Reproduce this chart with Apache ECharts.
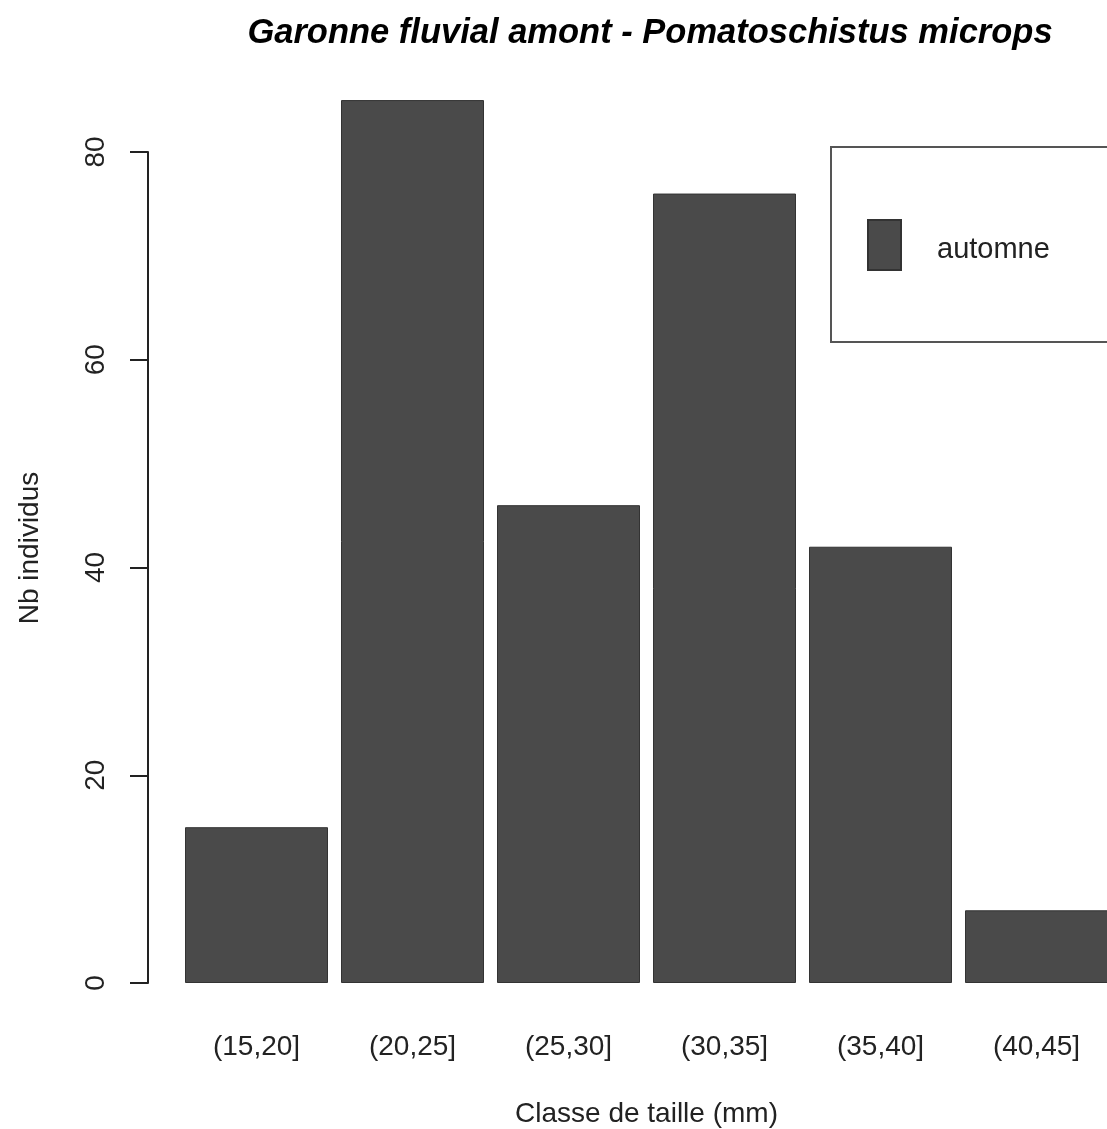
<!DOCTYPE html>
<html><head><meta charset="utf-8">
<script src="https://cdn.jsdelivr.net/npm/echarts@6/dist/echarts.min.js"></script>
<style>html,body{margin:0;padding:0;background:#fff}#c{width:1107px;height:1129px}</style>
</head><body><div id="c"></div>
<script>
const categories = ['(15,20]', '(20,25]', '(25,30]', '(30,35]', '(35,40]', '(40,45]'];
const automne = [15, 85, 46, 76, 42, 7];
const yTicks = { min: 0, max: 80, interval: 20 };
const titleText = 'Garonne fluvial amont - Pomatoschistus microps';
const xTitle = 'Classe de taille (mm)';
const yTitle = 'Nb individus';
const seriesName = 'automne';

const chart = echarts.init(document.getElementById('c'));
const font = 'Liberation Sans, Arial, sans-serif';
chart.setOption({
  animation: false,
  backgroundColor: '#fff',
  title: {
    text: titleText, left: 645, top: 11, textAlign: 'center',
    textStyle: { fontFamily: font, fontStyle: 'italic', fontWeight: 'bold', fontSize: 34.5, color: '#000' }
  },
  legend: {
    left: 831, top: 147, orient: 'vertical',
    padding: [72, 80, 71, 36],
    borderColor: '#555', borderWidth: 2, backgroundColor: '#fff',
    icon: 'rect', itemWidth: 33, itemHeight: 50,
    formatter: name => '{a|' + name + '}',
    textStyle: {
      fontFamily: font, fontSize: 29, color: '#222', padding: [0, 0, 0, 31],
      rich: { a: { fontFamily: font, fontSize: 29, color: '#222', padding: [10, 0, 0, 0] } }
    },
    data: [seriesName]
  },
  grid: { left: 178.5, top: 152, bottom: 146, right: -7.5, containLabel: false, outerBoundsMode: 'none' },
  xAxis: {
    type: 'category', data: categories,
    axisLine: { show: false }, axisTick: { show: false },
    axisLabel: { fontFamily: font, fontSize: 28, color: '#222', margin: 50 },
    name: xTitle, nameLocation: 'middle', nameGap: 117,
    nameTextStyle: { fontFamily: font, fontSize: 28, color: '#222' }
  },
  yAxis: {
    type: 'value', min: yTicks.min, max: yTicks.max, interval: yTicks.interval,
    offset: 30.5,
    splitLine: { show: false },
    axisLine: { show: true, lineStyle: { color: '#222', width: 2 } },
    axisTick: { show: true, length: 18, lineStyle: { color: '#222', width: 2 } },
    axisLabel: { fontFamily: font, fontSize: 28, color: '#222', rotate: 90, margin: 38 }
  },
  graphic: [{
    type: 'text', x: 30, y: 548, rotation: Math.PI / 2,
    style: { text: yTitle, fontFamily: font, fontSize: 28, fill: '#222', textAlign: 'center', textVerticalAlign: 'middle' }
  }],
  series: [{
    name: seriesName, type: 'bar', data: automne, barWidth: 143, clip: false,
    itemStyle: { color: '#4a4a4a', borderColor: '#333', borderWidth: 1 }
  }]
});
</script></body></html>
